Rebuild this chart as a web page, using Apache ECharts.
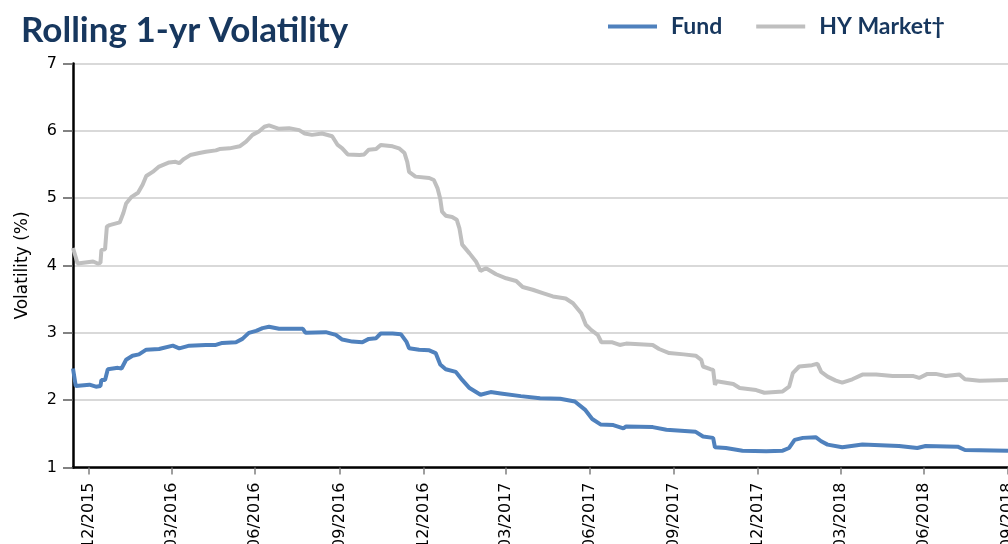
<!DOCTYPE html>
<html>
<head>
<meta charset="utf-8">
<script src="https://cdn.jsdelivr.net/npm/echarts@6/dist/echarts.min.js"></script>
<style>
  html, body { margin: 0; padding: 0; background: #fff; }
  #chart { width: 1008px; height: 544px; }
</style>
</head>
<body>
<div id="chart"></div>
<script>
const seriesNames = ['Fund', 'HY Market\u2020'];

const fundDates = ['2015-12-14','2015-12-17','2016-01-01','2016-01-08','2016-01-13','2016-01-14','2016-01-18','2016-01-21','2016-02-01','2016-02-05','2016-02-10','2016-02-17','2016-02-24','2016-03-03','2016-03-17','2016-04-01','2016-04-08','2016-04-19','2016-05-07','2016-05-18','2016-05-25','2016-06-09','2016-06-16','2016-06-23','2016-07-01','2016-07-08','2016-07-15','2016-07-26','2016-08-10','2016-08-21','2016-08-24','2016-09-15','2016-09-26','2016-10-03','2016-10-14','2016-10-25','2016-11-01','2016-11-09','2016-11-14','2016-11-27','2016-12-06','2016-12-12','2016-12-15','2016-12-26','2017-01-06','2017-01-13','2017-01-18','2017-01-24','2017-02-04','2017-02-08','2017-02-11','2017-02-19','2017-03-03','2017-03-14','2017-03-25','2017-04-16','2017-05-07','2017-05-29','2017-06-14','2017-06-25','2017-07-03','2017-07-12','2017-07-26','2017-08-06','2017-08-09','2017-09-07','2017-09-22','2017-10-24','2017-11-01','2017-11-12','2017-11-14','2017-11-26','2017-12-14','2018-01-09','2018-01-27','2018-02-03','2018-02-09','2018-02-18','2018-03-04','2018-03-10','2018-03-17','2018-04-02','2018-04-24','2018-06-03','2018-06-23','2018-07-02','2018-08-06','2018-08-14','2018-09-30'];
const fundValues = [2.47,2.21,2.23,2.20,2.21,2.30,2.30,2.46,2.48,2.47,2.60,2.66,2.68,2.75,2.76,2.81,2.77,2.81,2.82,2.82,2.85,2.86,2.91,3.00,3.03,3.07,3.09,3.06,3.06,3.06,3.00,3.01,2.97,2.90,2.87,2.86,2.91,2.92,2.99,2.99,2.98,2.87,2.77,2.75,2.74,2.70,2.53,2.46,2.42,2.35,2.30,2.18,2.08,2.12,2.10,2.06,2.03,2.02,1.98,1.86,1.72,1.64,1.63,1.58,1.61,1.60,1.56,1.53,1.46,1.44,1.30,1.29,1.25,1.24,1.25,1.29,1.41,1.44,1.45,1.39,1.34,1.30,1.34,1.32,1.29,1.32,1.31,1.26,1.25];

const hyDates = ['2015-12-14','2015-12-19','2016-01-05','2016-01-10','2016-01-13','2016-01-14','2016-01-18','2016-01-20','2016-01-23','2016-02-03','2016-02-07','2016-02-10','2016-02-16','2016-02-23','2016-02-28','2016-03-03','2016-03-10','2016-03-17','2016-03-28','2016-04-04','2016-04-08','2016-04-13','2016-04-20','2016-04-30','2016-05-07','2016-05-18','2016-05-22','2016-06-02','2016-06-13','2016-06-20','2016-06-27','2016-07-04','2016-07-10','2016-07-15','2016-07-26','2016-08-06','2016-08-17','2016-08-23','2016-08-31','2016-09-11','2016-09-22','2016-09-28','2016-10-03','2016-10-09','2016-10-22','2016-10-27','2016-11-01','2016-11-09','2016-11-14','2016-11-27','2016-12-04','2016-12-10','2016-12-13','2016-12-15','2016-12-22','2017-01-06','2017-01-11','2017-01-15','2017-01-18','2017-01-20','2017-01-24','2017-01-31','2017-02-05','2017-02-08','2017-02-11','2017-02-19','2017-02-26','2017-03-03','2017-03-09','2017-03-20','2017-03-31','2017-04-11','2017-04-18','2017-04-29','2017-05-10','2017-05-21','2017-06-04','2017-06-12','2017-06-21','2017-06-26','2017-07-02','2017-07-09','2017-07-13','2017-07-25','2017-08-02','2017-08-09','2017-09-07','2017-09-14','2017-09-25','2017-10-11','2017-10-24','2017-10-30','2017-11-01','2017-11-09','2017-11-12','2017-11-14','2017-11-16','2017-12-04','2017-12-11','2017-12-29','2018-01-07','2018-01-27','2018-02-03','2018-02-07','2018-02-14','2018-02-28','2018-03-06','2018-03-10','2018-03-17','2018-03-26','2018-04-02','2018-04-13','2018-04-24','2018-05-09','2018-05-27','2018-06-18','2018-06-25','2018-07-04','2018-07-13','2018-07-24','2018-08-08','2018-08-14','2018-08-30','2018-09-30'];
const hyValues = [4.26,4.03,4.06,4.03,4.04,4.23,4.24,4.58,4.60,4.64,4.78,4.92,5.02,5.08,5.20,5.33,5.39,5.47,5.53,5.54,5.52,5.58,5.64,5.67,5.69,5.71,5.73,5.74,5.77,5.84,5.94,5.99,6.06,6.08,6.03,6.04,6.01,5.96,5.94,5.96,5.92,5.79,5.74,5.65,5.64,5.65,5.72,5.73,5.79,5.77,5.74,5.67,5.54,5.39,5.32,5.30,5.27,5.15,4.99,4.80,4.74,4.72,4.68,4.55,4.31,4.18,4.06,3.92,3.96,3.87,3.81,3.77,3.68,3.64,3.59,3.54,3.51,3.44,3.29,3.12,3.04,2.97,2.86,2.86,2.82,2.84,2.82,2.76,2.70,2.68,2.66,2.60,2.50,2.46,2.45,2.23,2.28,2.24,2.18,2.15,2.11,2.13,2.20,2.40,2.50,2.52,2.54,2.42,2.35,2.29,2.26,2.31,2.38,2.38,2.36,2.36,2.33,2.39,2.39,2.36,2.38,2.31,2.29,2.30];

const tickDates = ['2015-12-31','2016-03-31','2016-06-30','2016-09-30','2016-12-31','2017-03-31','2017-06-30','2017-09-30','2017-12-31','2018-03-31','2018-06-30','2018-09-30'];
const tickLabels = ['12/2015','03/2016','06/2016','09/2016','12/2016','03/2017','06/2017','09/2017','12/2017','03/2018','06/2018','09/2018'];
const yTicks = { min: 1, max: 7, interval: 1 };
const xRange = { min: '2015-12-14', max: '2018-09-30' };

const toTime = s => echarts.number.parseDate(s).getTime();
const tickTimes = tickDates.map(toTime);
const pairs = (ds, vs) => ds.map((d, i) => [toTime(d), vs[i]]);

const navy = '#17375e';
const chart = echarts.init(document.getElementById('chart'), null, { renderer: 'canvas' });
chart.setOption({
  animation: false,
  backgroundColor: '#ffffff',
  title: {
    text: 'Rolling 1-yr Volatility',
    left: 16,
    top: 8,
    textStyle: { fontFamily: 'Lato', fontWeight: 'bold', fontSize: 35, color: navy }
  },
  legend: {
    data: seriesNames,
    left: 603,
    top: 10,
    icon: 'rect',
    itemWidth: 49,
    itemHeight: 4,
    itemGap: 34,
    textStyle: { fontFamily: 'Lato', fontWeight: 'bold', fontSize: 23, color: navy, padding: [0, 0, 0, 9] }
  },
  grid: { left: 73, top: 63.5, right: 0, bottom: 76.5, containLabel: false, outerBoundsMode: 'none' },
  xAxis: {
    type: 'value',
    min: toTime(xRange.min),
    max: toTime(xRange.max),
    axisLine: { show: true, onZero: false, lineStyle: { color: '#000', width: 2.5 } },
    splitLine: { show: false },
    axisTick: { show: true, customValues: tickTimes, length: 7, lineStyle: { color: '#7f7f7f', width: 1.5 } },
    axisLabel: {
      customValues: tickTimes,
      rotate: 90,
      margin: 15,
      hideOverlap: false,
      fontFamily: 'DejaVu Sans',
      fontSize: 16,
      color: '#000',
      formatter: v => {
        const i = tickTimes.indexOf(v);
        return i >= 0 ? tickLabels[i] : '';
      }
    }
  },
  yAxis: {
    type: 'value',
    min: yTicks.min,
    max: yTicks.max,
    interval: yTicks.interval,
    name: 'Volatility (%)',
    nameLocation: 'middle',
    nameRotate: 90,
    nameGap: 42,
    nameTextStyle: { fontFamily: 'DejaVu Sans', fontSize: 17, color: '#000' },
    axisLine: { show: true, lineStyle: { color: '#000', width: 2.5 } },
    axisTick: { show: true, length: 10, lineStyle: { color: '#595959', width: 1.5 } },
    axisLabel: { margin: 16, fontFamily: 'DejaVu Sans', fontSize: 16, color: '#000' },
    splitLine: { show: true, lineStyle: { color: '#d9d9d9', width: 2 } }
  },
  series: [
    {
      name: seriesNames[0],
      type: 'line',
      data: pairs(fundDates, fundValues),
      showSymbol: false,
      symbol: 'none',
      color: '#4f81bd',
      lineStyle: { color: '#4f81bd', width: 4 },
      z: 3
    },
    {
      name: seriesNames[1],
      type: 'line',
      data: pairs(hyDates, hyValues),
      showSymbol: false,
      symbol: 'none',
      color: '#bfbfbf',
      lineStyle: { color: '#bfbfbf', width: 4 },
      z: 2
    }
  ]
});
</script>
</body>
</html>
